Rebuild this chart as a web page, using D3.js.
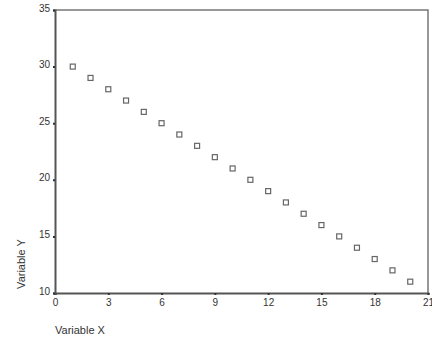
<!DOCTYPE html>
<html>
<head>
<meta charset="utf-8">
<script src="https://cdn.jsdelivr.net/npm/d3@7"></script>
<style>
  body { margin: 0; background: #fff; }
  text { font-family: "Liberation Sans", Arial, sans-serif; fill: #333; }
</style>
</head>
<body>
<div id="chart"></div>
<script>
// data
var xValues = [1, 2, 3, 4, 5, 6, 7, 8, 9, 10, 11, 12, 13, 14, 15, 16, 17, 18, 19, 20];
var yValues = [30, 29, 28, 27, 26, 25, 24, 23, 22, 21, 20, 19, 18, 17, 16, 15, 14, 13, 12, 11];
var xTicks = [0, 3, 6, 9, 12, 15, 18, 21];
var yTicks = [10, 15, 20, 25, 30, 35];

var width = 432, height = 349;
var plotLeft = 55, plotRight = 428, plotTop = 10, plotBottom = 293;

var svg = d3.select("#chart").append("svg")
    .attr("width", width)
    .attr("height", height);

var x = d3.scaleLinear().domain([0, 21]).range([plotLeft, plotRight]);
var y = d3.scaleLinear().domain([10, 35]).range([plotBottom, plotTop]);

// frame top & right
svg.append("path")
    .attr("d", "M" + plotLeft + "," + plotTop + "H" + plotRight + "V" + plotBottom)
    .attr("fill", "none")
    .attr("stroke", "#777")
    .attr("stroke-width", 1.5);

var xAxis = svg.append("g")
    .attr("transform", "translate(0," + plotBottom + ")")
    .call(d3.axisBottom(x).tickValues(xTicks).tickSize(2).tickPadding(4));

var yAxis = svg.append("g")
    .attr("transform", "translate(" + plotLeft + ",0)")
    .call(d3.axisLeft(y).tickValues(yTicks).tickSize(2).tickPadding(3));

[xAxis, yAxis].forEach(function(a) {
  a.select(".domain").attr("stroke", "#555").attr("stroke-width", 2);
  a.selectAll(".tick line").attr("stroke", "#333").attr("stroke-width", 2);
  a.selectAll(".tick text").style("font-size", "10px").attr("fill", "#333");
});
yAxis.selectAll(".tick text").attr("dy", "0.1em");

var points = xValues.map(function(d, i) { return {x: d, y: yValues[i]}; });

svg.append("g").selectAll("rect")
    .data(points)
    .enter().append("rect")
    .attr("x", function(d) { return x(d.x) - 2.5; })
    .attr("y", function(d) { return y(d.y) - 2.5; })
    .attr("width", 5)
    .attr("height", 5)
    .attr("fill", "none")
    .attr("stroke", "#666")
    .attr("stroke-width", 1.2);

svg.append("text")
    .attr("x", 55)
    .attr("y", 334)
    .style("font-size", "11px")
    .text("Variable X");

svg.append("text")
    .attr("transform", "translate(25,264) rotate(-90)")
    .attr("text-anchor", "middle")
    .style("font-size", "11px")
    .text("Variable Y");
</script>
</body>
</html>
